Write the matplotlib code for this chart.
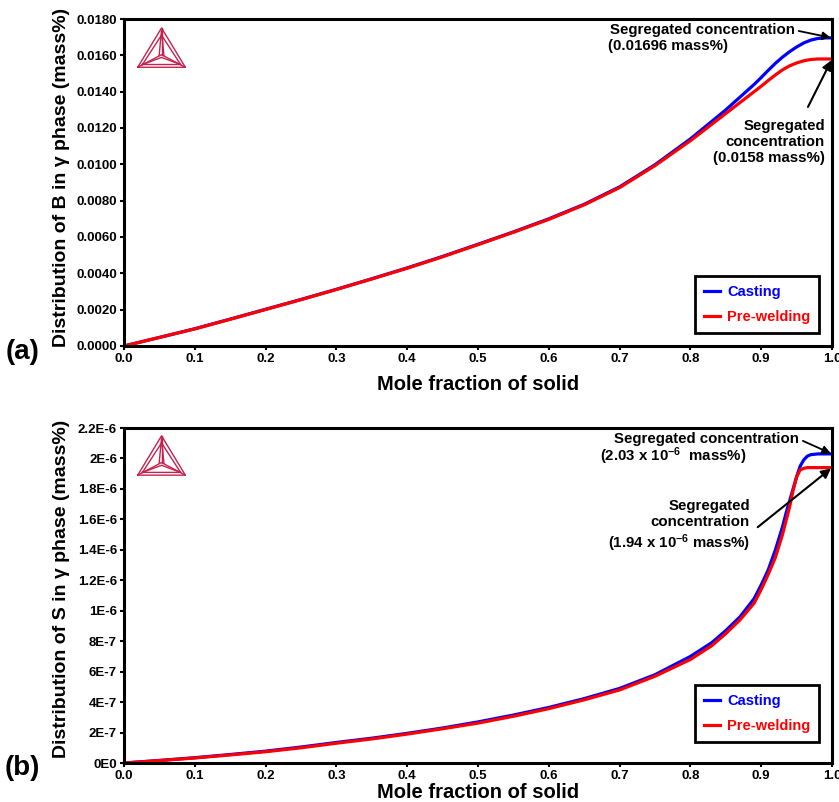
import matplotlib
matplotlib.use('Agg')
from matplotlib import pyplot as plt

plt.rcParams['font.family'] = ['Liberation Sans', 'DejaVu Sans']
plt.rcParams['font.weight'] = 'bold'
plt.rcParams['mathtext.fontset'] = 'custom'
plt.rcParams['mathtext.rm'] = 'Liberation Sans'
plt.rcParams['mathtext.bf'] = 'Liberation Sans:bold'
plt.rcParams['mathtext.default'] = 'bf'

# ---- data ----
frac_a = [0, 0.05, 0.1, 0.15, 0.2, 0.25, 0.3, 0.35, 0.4, 0.45, 0.5, 0.55, 0.6, 0.65, 0.7, 0.75,
          0.8, 0.85, 0.87, 0.89, 0.9, 0.91, 0.92, 0.93, 0.94, 0.95, 0.96, 0.97, 0.98, 0.99, 1.0]
casting_B = [0, 0.00047, 0.00095, 0.00148, 0.00202, 0.00256, 0.00312, 0.0037, 0.0043, 0.00493,
             0.0056, 0.00628, 0.0070, 0.0078, 0.00876, 0.00998, 0.0114, 0.0130, 0.0137, 0.0144,
             0.01478, 0.01518, 0.01556, 0.0159, 0.0162, 0.01646, 0.01668, 0.01684, 0.01693,
             0.01696, 0.01696]
prewelding_B = [0, 0.00047, 0.00094, 0.00147, 0.00201, 0.00255, 0.00311, 0.00369, 0.00428,
                0.00491, 0.00558, 0.00626, 0.00697, 0.00777, 0.00872, 0.00993, 0.0113, 0.0128,
                0.0134, 0.0140, 0.0143, 0.01462, 0.01492, 0.0152, 0.01542, 0.01558, 0.0157,
                0.01577, 0.0158, 0.0158, 0.0158]

frac_b = [0, 0.05, 0.1, 0.15, 0.2, 0.25, 0.3, 0.35, 0.4, 0.45, 0.5, 0.55, 0.6, 0.65, 0.7, 0.75,
          0.8, 0.83, 0.85, 0.87, 0.89, 0.9, 0.91, 0.92, 0.93, 0.935, 0.94, 0.945, 0.95, 0.955,
          0.96, 0.965, 0.97, 0.98, 1.0]
casting_S = [0, 0.017, 0.035, 0.056, 0.078, 0.105, 0.135, 0.163, 0.195, 0.23, 0.27, 0.315, 0.365,
             0.423, 0.49, 0.58, 0.70, 0.79, 0.87, 0.96, 1.08, 1.17, 1.27, 1.40, 1.55, 1.64, 1.72,
             1.80, 1.88, 1.95, 1.99, 2.015, 2.025, 2.03, 2.03]
prewelding_S = [0, 0.016, 0.033, 0.053, 0.074, 0.10, 0.13, 0.158, 0.19, 0.225, 0.262, 0.307,
                0.357, 0.415, 0.48, 0.57, 0.68, 0.77, 0.85, 0.94, 1.05, 1.14, 1.24, 1.35, 1.50,
                1.59, 1.68, 1.79, 1.88, 1.925, 1.935, 1.94, 1.94, 1.94, 1.94]
casting_S = [v * 1e-6 for v in casting_S]
prewelding_S = [v * 1e-6 for v in prewelding_S]

x_ticks = [0.0, 0.1, 0.2, 0.3, 0.4, 0.5, 0.6, 0.7, 0.8, 0.9, 1.0]
ya_ticks = [0.0, 0.002, 0.004, 0.006, 0.008, 0.010, 0.012, 0.014, 0.016, 0.018]
yb_ticks = [0, 2e-7, 4e-7, 6e-7, 8e-7, 1e-6, 1.2e-6, 1.4e-6, 1.6e-6, 1.8e-6, 2e-6, 2.2e-6]
yb_labels = ['0E0', '2E-7', '4E-7', '6E-7', '8E-7', '1E-6', '1.2E-6', '1.4E-6', '1.6E-6',
             '1.8E-6', '2E-6', '2.2E-6']

ANN_SIZE = 10.8
LAB_SIZE = 14


def draw_logo(ax, rect):
    """Thermo-Calc style triangle in the corner"""
    lg = ax.inset_axes(rect)
    lg.set_xlim(-0.02, 1.02)
    lg.set_ylim(-0.02, 1.02)
    lg.axis('off')
    kw = dict(color='#c4224e', lw=1.0)
    lg.plot([0, 1, 0.5, 0], [0, 0, 1, 0], **kw)
    lg.plot([0.1, 0.9, 0.5, 0.1], [0.07, 0.07, 0.82, 0.07], **kw)
    lg.plot([0.5, 0.5], [1, 0.32], **kw)
    lg.plot([0.45, 0.5, 0.55], [0.3, 0.95, 0.3], **kw)
    lg.plot([0, 0.5, 1], [0, 0.32, 0], **kw)
    lg.plot([0.1, 0.5, 0.9], [0.07, 0.25, 0.07], **kw)


def style_axes(ax, xpad):
    for s in ax.spines.values():
        s.set_linewidth(2.2)
    ax.set_xlim(0, 1)
    ax.set_xticks(x_ticks)
    ax.set_xticklabels([f'{t:.1f}' for t in x_ticks])
    ax.tick_params(direction='out', length=3, width=1.5, pad=2, labelsize=9.5)
    ax.set_xlabel('Mole fraction of solid', fontsize=LAB_SIZE + 0.5, fontweight='bold',
                  labelpad=xpad)


def add_legend(ax, y0):
    leg = ax.legend(loc='lower right', bbox_to_anchor=(0.982, y0), borderaxespad=0,
                    fancybox=False, edgecolor='black', framealpha=1, labelcolor='linecolor',
                    handlelength=1.1, handletextpad=0.5, labelspacing=0.75, borderpad=0.6,
                    prop={'weight': 'bold', 'size': 10.5})
    leg.get_frame().set_linewidth(2.0)


fig = plt.figure(figsize=(8.39, 8.02), dpi=100)
ax1 = fig.add_axes([0.1478, 0.5686, 0.8439, 0.4077])
ax2 = fig.add_axes([0.1478, 0.0486, 0.8439, 0.4177])

# ---- (a) boron ----
ax1.plot(frac_a, casting_B, color='#0000ff', lw=2.3, label='Casting')
ax1.plot(frac_a, prewelding_B, color='#ff0000', lw=2.3, label='Pre-welding')
style_axes(ax1, 7)
ax1.set_ylim(0, 0.018)
ax1.set_yticks(ya_ticks)
ax1.set_yticklabels([f'{t:.4f}' for t in ya_ticks])
ax1.set_ylabel('Distribution of B in γ phase (mass%)', fontsize=LAB_SIZE, fontweight='bold')
ax1.yaxis.set_label_coords(-0.076, 0.515)

ax1.annotate('Segregated concentration', xy=(1.0, casting_B[-1]), xycoords='data',
             xytext=(0.686, 0.966), textcoords='axes fraction', ha='left', va='center',
             fontsize=ANN_SIZE, fontweight='bold',
             arrowprops=dict(arrowstyle='-|>', color='black', lw=1.3, relpos=(1, 0.5),
                             shrinkA=1, shrinkB=1, mutation_scale=12))
ax1.text(0.684, 0.917, '(0.01696 mass%)', transform=ax1.transAxes, ha='left', va='center',
         fontsize=ANN_SIZE, fontweight='bold')
ax1.text(0.990, 0.624, 'Segregated\nconcentration\n(0.0158 mass%)', transform=ax1.transAxes,
         ha='right', va='center', multialignment='right', fontsize=ANN_SIZE, fontweight='bold',
         linespacing=1.2)
ax1.annotate('', xy=(1.0, prewelding_B[-1]), xycoords='data', xytext=(0.966, 0.731),
             textcoords='axes fraction',
             arrowprops=dict(arrowstyle='-|>', color='black', lw=1.5, shrinkA=0, shrinkB=1,
                             mutation_scale=14))
add_legend(ax1, 0.04)
draw_logo(ax1, [0.018, 0.85, 0.07, 0.125])

# ---- (b) sulfur ----
ax2.plot(frac_b, casting_S, color='#0000ff', lw=2.3, label='Casting')
ax2.plot(frac_b, prewelding_S, color='#ff0000', lw=2.3, label='Pre-welding')
style_axes(ax2, 1)
ax2.set_ylim(0, 2.2e-6)
ax2.set_yticks(yb_ticks)
ax2.set_yticklabels(yb_labels)
ax2.set_ylabel('Distribution of S in γ phase (mass%)', fontsize=LAB_SIZE, fontweight='bold')
ax2.yaxis.set_label_coords(-0.076, 0.52)

ax2.annotate('Segregated concentration', xy=(1.0, casting_S[-1]), xycoords='data',
             xytext=(0.692, 0.967), textcoords='axes fraction', ha='left', va='center',
             fontsize=ANN_SIZE, fontweight='bold',
             arrowprops=dict(arrowstyle='-|>', color='black', lw=1.3, relpos=(1, 0.5),
                             shrinkA=1, shrinkB=1, mutation_scale=12))
ax2.text(0.672, 0.916, r'(2.03 x 10$^{-6}$  mass%)', transform=ax2.transAxes, ha='left',
         va='center', fontsize=ANN_SIZE, fontweight='bold')
ax2.text(0.884, 0.706, 'Segregated\nconcentration\n' + r'(1.94 x 10$^{-6}$ mass%)',
         transform=ax2.transAxes, ha='right', va='center', multialignment='right',
         fontsize=ANN_SIZE, fontweight='bold', linespacing=1.2)
ax2.annotate('', xy=(1.0, prewelding_S[-1]), xycoords='data', xytext=(0.895, 0.704),
             textcoords='axes fraction',
             arrowprops=dict(arrowstyle='-|>', color='black', lw=1.5, shrinkA=0, shrinkB=1,
                             mutation_scale=14))
add_legend(ax2, 0.064)
draw_logo(ax2, [0.018, 0.857, 0.07, 0.122])

fig.text(0.027, 0.561, '(a)', fontsize=20, fontweight='bold', ha='center', va='center')
fig.text(0.027, 0.042, '(b)', fontsize=20, fontweight='bold', ha='center', va='center')

fig.savefig('out.png', dpi=100)
